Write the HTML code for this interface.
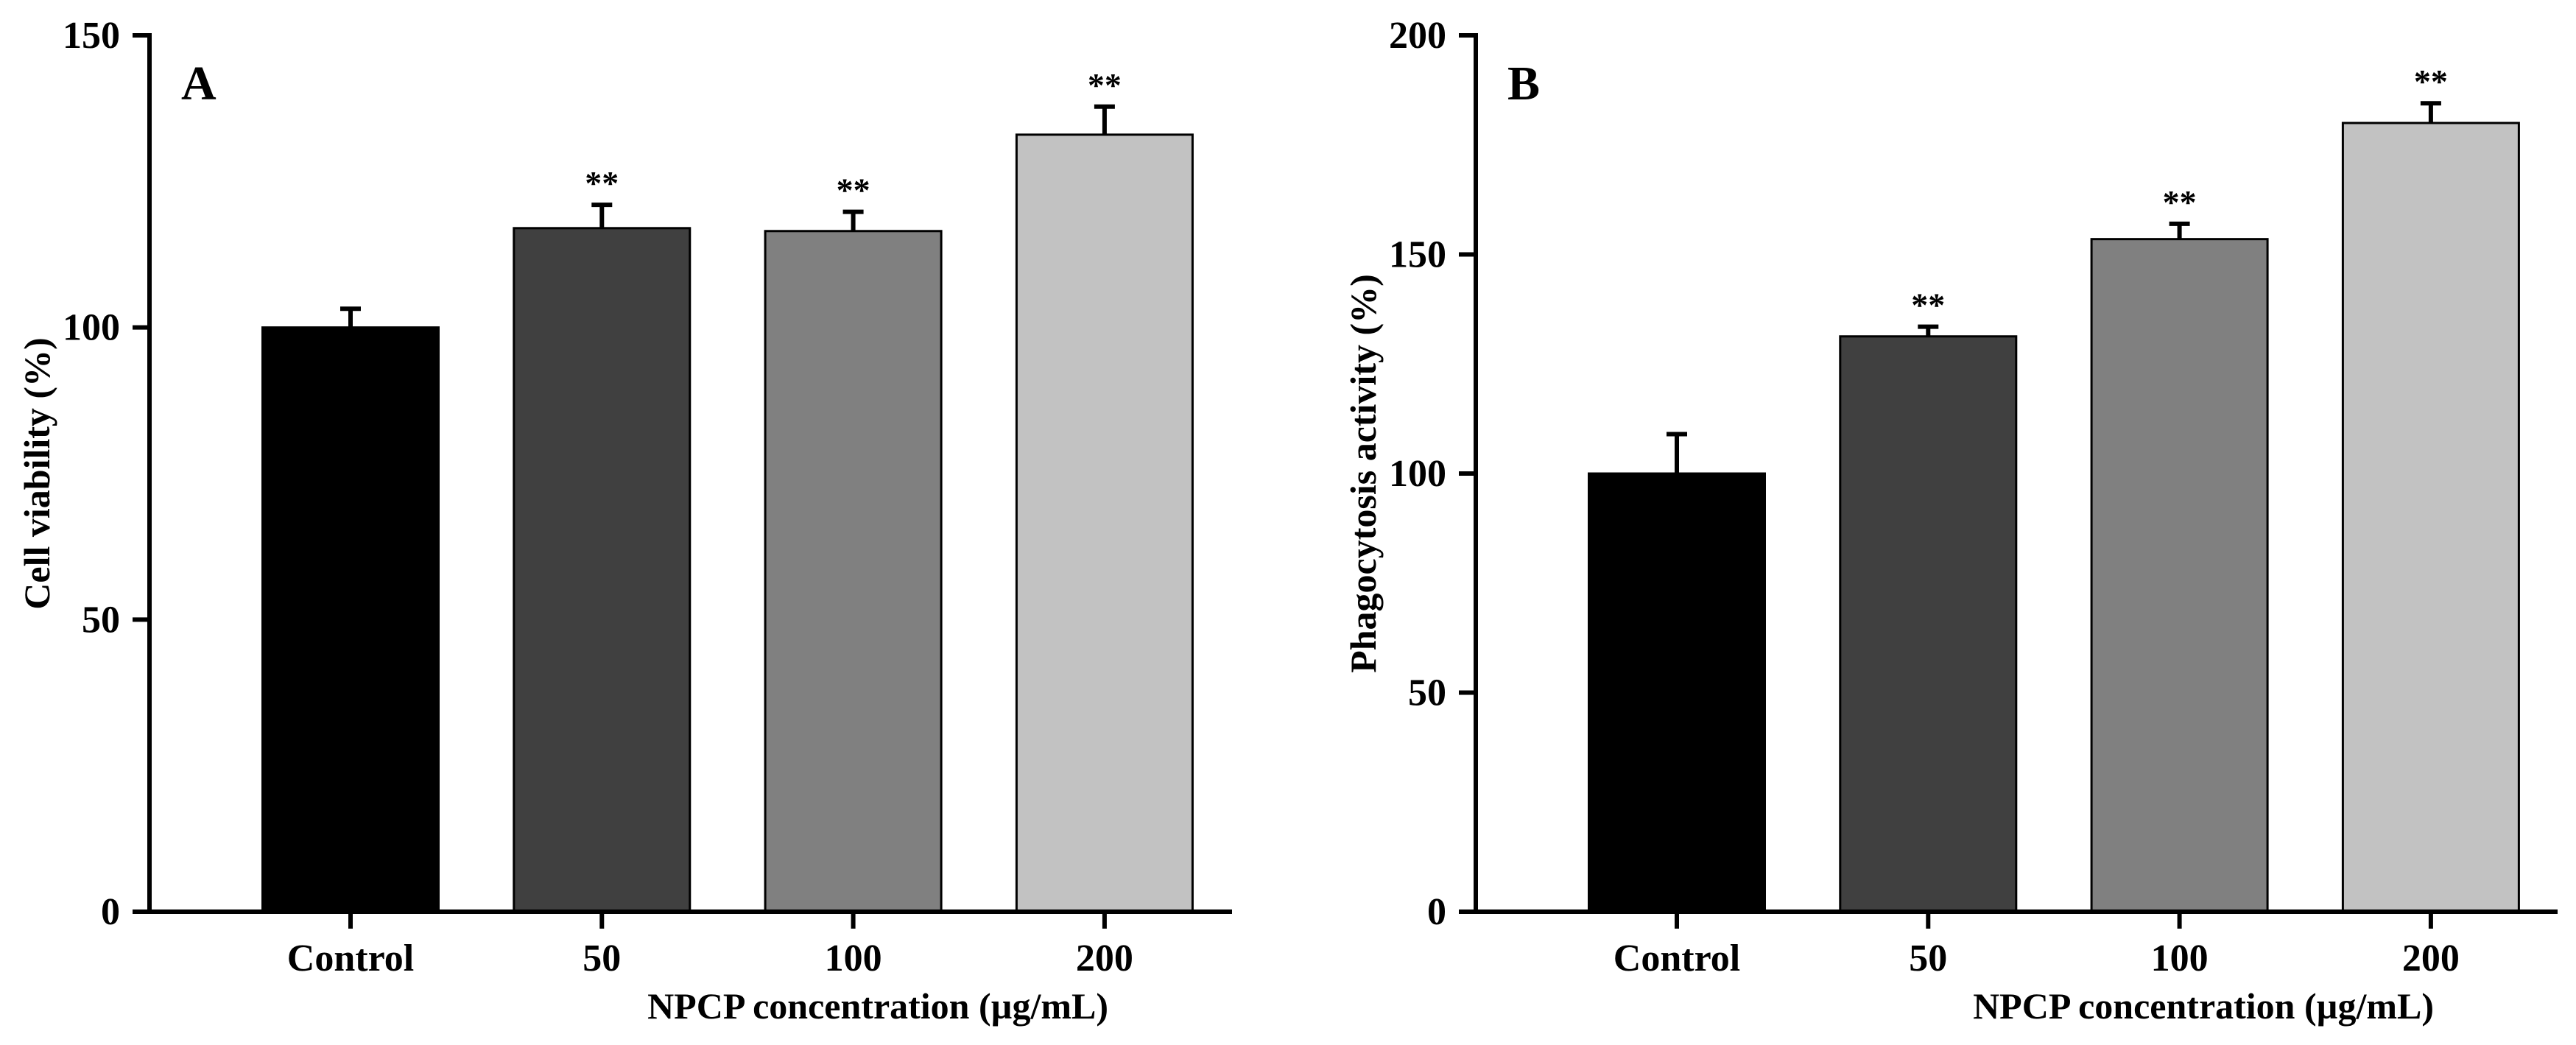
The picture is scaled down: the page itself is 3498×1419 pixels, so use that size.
<!DOCTYPE html>
<html><head><meta charset="utf-8"><style>
html,body{margin:0;padding:0;background:#fff}
svg{display:block}
text{font-family:"Liberation Serif",serif;font-weight:bold;fill:#000}
</style></head><body>
<svg id="fig" width="3498" height="1419" viewBox="0 0 3498 1419" xmlns="http://www.w3.org/2000/svg"></svg>
<script>
const categories = ["Control", "50", "100", "200"];
const valuesA = [100, 117, 116.5, 133];
const errorsA = [3.2, 4, 3.3, 4.8];
const ticksA = [0, 50, 100, 150];
const valuesB = [100, 131.3, 153.5, 180];
const errorsB = [9, 2.2, 3.5, 4.5];
const ticksB = [0, 50, 100, 150, 200];
const barColors = ["#000000", "#404040", "#808080", "#c2c2c2"];
const sigA = ["", "**", "**", "**"];
const sigB = ["", "**", "**", "**"];

const NS = "http://www.w3.org/2000/svg";
const svg = document.getElementById("fig");
function mk(tag, attrs, parent) {
  const e = document.createElementNS(NS, tag);
  for (const k in attrs) e.setAttribute(k, attrs[k]);
  (parent || svg).appendChild(e);
  return e;
}

function panel(cfg) {
  const g = mk("g", {});
  
  
  const y0 = 1238, y1 = 48;
  const ymax = cfg.ticks[cfg.ticks.length - 1];
  const y = v => y0 - (v / ymax) * (y0 - y1);
  const step = 341.3, bw = 239;
  const x = i => cfg.x0 + i * step;
  cfg.values.forEach((v, i) => {
    const r = mk("rect", {x: x(i) - bw / 2, y: y(v), width: bw, height: y0 - y(v), fill: barColors[i], stroke: "#000", "stroke-width": 3}, g);
    
    
    const top = y(v + cfg.errors[i]);
    const eb = mk("path", {d: `M${x(i)} ${y(v)} V${top} M${x(i) - 14} ${top} H${x(i) + 14}`, stroke: "#000", "stroke-width": 6, fill: "none"}, g);
    
    
    if (cfg.sig[i]) {
      const s = mk("text", {x: x(i), y: top - 14, "text-anchor": "middle", "font-size": 46}, g);
      s.textContent = cfg.sig[i];
      
      
    }
    const t = mk("path", {d: `M${x(i)} ${y0} V${y0 + 23}`, stroke: "#000", "stroke-width": 6}, g);
    
    
    const l = mk("text", {x: x(i), y: 1318, "text-anchor": "middle", "font-size": 52}, g);
    l.textContent = categories[i];
    
    
  });
  const ya = mk("path", {d: `M${cfg.ax} ${y1 - 3} V${y0}`, stroke: "#000", "stroke-width": 6}, g);
  
  
  const xa = mk("path", {d: `M${cfg.ax - 23} ${y0} H${cfg.xend}`, stroke: "#000", "stroke-width": 6}, g);
  
  
  cfg.ticks.forEach(tv => {
    const t = mk("path", {d: `M${cfg.ax - 23} ${y(tv)} H${cfg.ax}`, stroke: "#000", "stroke-width": 6}, g);
    
    
    const l = mk("text", {x: cfg.ax - 40, y: y(tv) + 17, "text-anchor": "end", "font-size": 52}, g);
    l.textContent = tv;
    
    
  });
  const yt = mk("text", {x: cfg.ytx, y: 643, "text-anchor": "middle", "font-size": 50, transform: `rotate(-90 ${cfg.ytx} 643)`}, g);
  yt.textContent = cfg.ytitle;
  
  
  const xt = mk("text", {x: cfg.xtx, y: 1383, "text-anchor": "end", "font-size": 50}, g);
  xt.textContent = "NPCP concentration (\u00b5g/mL)";
  
  
  const pl = mk("text", {x: cfg.lx, y: 135, "font-size": 66}, g);
  pl.textContent = cfg.letter;
  
  
}

panel({name: "panel-a", x0: 476, ax: 203, xend: 1673, values: valuesA, errors: errorsA, ticks: ticksA, sig: sigA, ytitle: "Cell viability (%)", ytx: 67, xtx: 1505, lx: 246, letter: "A"});
panel({name: "panel-b", x0: 2277, ax: 2004, xend: 3473, values: valuesB, errors: errorsB, ticks: ticksB, sig: sigB, ytitle: "Phagocytosis activity (%)", ytx: 1868, xtx: 3305, lx: 2047, letter: "B"});
</script>
</body></html>
